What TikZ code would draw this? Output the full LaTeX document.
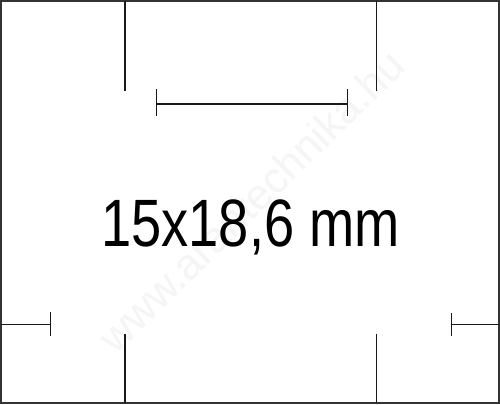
\documentclass[tikz,border=0pt]{standalone}
\usepackage{fontspec}
\setmainfont{Liberation Sans}
\begin{document}
\begin{tikzpicture}[x=1pt,y=-1pt,
  mark line/.style={line width=1.4pt, black!90},
  frame line/.style={line width=1.8pt, black!80},
  label text/.style={font=\fontsize{67}{67}\selectfont, xscale=0.81, inner sep=0pt},
  water text/.style={font=\fontsize{43}{43}\selectfont, text=black!4, inner sep=0pt}]
\useasboundingbox (0,0) rectangle (500,404);
\fill[white] (0,0) rectangle (500,404);
% watermark
\node[water text, rotate=44.6] (wm) at (251,201) {www.arantechnika.hu};
% frame
\draw[frame line] (1,1) rectangle (499,403);
% top vertical marks
\coordinate (tlA) at (125,1);
\coordinate (tlB) at (125,91);
\coordinate (trA) at (376.7,1);
\coordinate (trB) at (376.7,91);
\draw[mark line] (tlA) -- (tlB);
\draw[mark line] (trA) -- (trB);
% dimension line
\coordinate (dL) at (156.7,103.8);
\coordinate (dR) at (347.7,103.8);
\draw[mark line] (dL) -- (dR);
\draw[mark line] ([yshift=-12.5]dL) -- ([yshift=14.5]dL);
\draw[mark line] ([yshift=-12.5]dR) -- ([yshift=14.5]dR);
% bottom side marks
\coordinate (blA) at (1,324.3);
\coordinate (blB) at (50.7,324.3);
\coordinate (brA) at (451.7,324.3);
\coordinate (brB) at (499,324.3);
\draw[mark line] (blA) -- (blB);
\draw[mark line] ([yshift=-12]blB) -- ([yshift=12]blB);
\draw[mark line] (brA) -- (brB);
\draw[mark line] ([yshift=-11.5]brA) -- ([yshift=11]brA);
% bottom vertical marks
\coordinate (bvlA) at (125,334);
\coordinate (bvlB) at (125,403);
\coordinate (bvrA) at (376.7,334);
\coordinate (bvrB) at (376.7,403);
\draw[mark line] (bvlA) -- (bvlB);
\draw[mark line] (bvrA) -- (bvrB);
% label
\node[label text, anchor=base] (lbl) at (250.5,246.7) {15x18,6 mm};
\end{tikzpicture}
\end{document}
